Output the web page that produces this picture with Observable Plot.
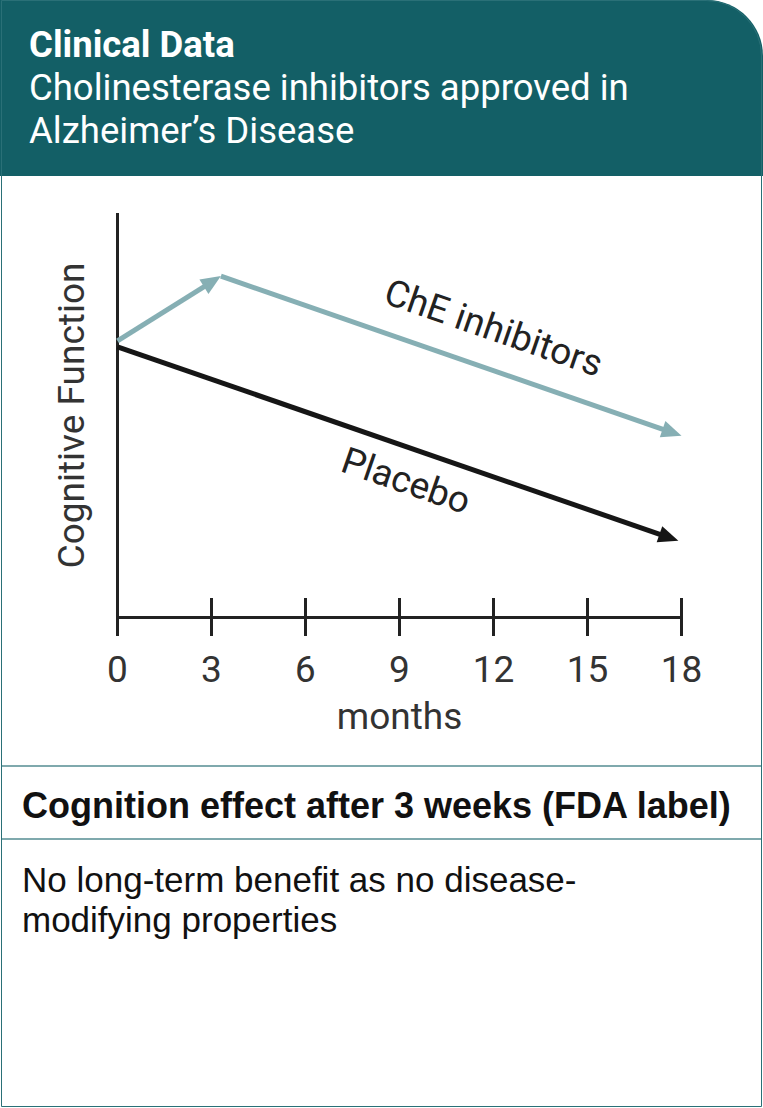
<!DOCTYPE html>
<html>
<head>
<meta charset="utf-8">
<script src="https://cdn.jsdelivr.net/npm/d3@7"></script>
<script src="https://cdn.jsdelivr.net/npm/@observablehq/plot@0.6"></script>
<style>
  html, body { margin: 0; padding: 0; background: #fff; }
  #page { position: relative; width: 763px; height: 1108px; overflow: hidden; }
  #header { position: absolute; left: 0; top: 0; width: 763px; height: 176px; background: #135f66; border-top-right-radius: 56px; }
  #frame { position: absolute; left: 1px; top: 0; width: 761px; height: 1107px; box-sizing: border-box; border: 1.5px solid #2a7077; border-top-right-radius: 56px; pointer-events: none; }
  #title { position: absolute; left: 29px; top: 23px; color: #fff; font-family: Roboto, sans-serif; font-size: 36.5px; line-height: 43px; white-space: nowrap; }
  #title b { font-weight: 700; }
  #chart { position: absolute; left: 0; top: 176px; }
  .rule { position: absolute; left: 2px; width: 759px; height: 1.5px; background: #7fa9ad; }
  #heading { position: absolute; left: 22px; top: 784px; font-family: "Liberation Sans", Arial, sans-serif; font-weight: 700; font-size: 36px; line-height: 44px; color: #111; white-space: nowrap; }
  #body { position: absolute; left: 22px; top: 860px; width: 720px; font-family: "Liberation Sans", Arial, sans-serif; font-size: 35px; line-height: 40px; color: #111; white-space: nowrap; }
</style>
</head>
<body>
<div id="page">
  <div id="header"></div>
  <div id="title"><b>Clinical Data</b><br>Cholinesterase inhibitors approved in<br>Alzheimer’s Disease</div>
  <div id="chart"></div>
  <div class="rule" style="top:765px"></div>
  <div id="heading">Cognition effect after 3 weeks (FDA label)</div>
  <div class="rule" style="top:838px"></div>
  <div id="body">No long-term benefit as no disease-<br>modifying properties</div>
  <div id="frame"></div>
</div>
<script>
// ---- data ----
const monthTicks = [0, 3, 6, 9, 12, 15, 18];
const cheMonths = [0, 3.3, 18];
const cheValues = [68.5, 84.5, 45];
const placeboMonths = [0, 17.9];
const placeboValues = [67, 19];
const seriesNames = ["ChE inhibitors", "Placebo"];
const labelMonths = [12, 9.2];
const labelValues = [71.5, 33.7];
const xLabel = "months";
const yLabel = "Cognitive Function";

// ---- layout / style ----
const W = 763, H = 590, mL = 117, mR = 82, mT = 37, mB = 149;
const cheColor = "#86afb4", placeboColor = "#161616", axisColor = "#222", textColor = "#333";
const fs = 37;
const xDomain = [0, 18], yDomain = [0, 100];
const px = v => mL + (v - xDomain[0]) / (xDomain[1] - xDomain[0]) * (W - mL - mR);
const py = v => (H - mB) - (v - yDomain[0]) / (yDomain[1] - yDomain[0]) * (H - mB - mT);

function segments(ms, vs, color) {
  const out = [];
  for (let i = 0; i < ms.length - 1; i++) {
    const s = {x1: ms[i], y1: vs[i], x2: ms[i + 1], y2: vs[i + 1], color};
    s.angle = Math.atan2(py(s.y2) - py(s.y1), px(s.x2) - px(s.x1)) * 180 / Math.PI;
    out.push(s);
  }
  return out;
}
const segs = [
  ...segments(cheMonths, cheValues, cheColor),
  ...segments(placeboMonths, placeboValues, placeboColor)
];
const labels = seriesNames.map((name, i) => ({
  name, x: labelMonths[i], y: labelValues[i],
  angle: segs.filter(s => s.color === (i === 0 ? cheColor : placeboColor)).slice(-1)[0].angle
}));

// arrowhead symbol: tip at origin, pointing up
const headSymbol = {
  draw(ctx) {
    ctx.moveTo(0, 0);
    ctx.lineTo(-8.5, 20);
    ctx.lineTo(8.5, 20);
    ctx.closePath();
  }
};

const plot = Plot.plot({
  width: W, height: H,
  marginLeft: mL, marginRight: mR, marginTop: mT, marginBottom: mB,
  x: {domain: xDomain, axis: null},
  y: {domain: yDomain, axis: null},
  style: {fontFamily: "Roboto, sans-serif", background: "transparent", overflow: "visible"},
  marks: [
    Plot.ruleX([0], {y1: yDomain[0], y2: yDomain[1], stroke: axisColor, strokeWidth: 3}),
    Plot.ruleY([0], {x1: xDomain[0], x2: xDomain[1], stroke: axisColor, strokeWidth: 3}),
    Plot.ruleX(monthTicks, {x: d => d, y1: 0, y2: 0, insetTop: -19, insetBottom: -19, stroke: axisColor, strokeWidth: 3}),
    Plot.axisX({ticks: monthTicks, tickSize: 0, tickPadding: 38, fontSize: fs, label: null, fill: textColor, tickFormat: d => String(d)}),
    Plot.text([xLabel], {x: 9, y: 0, dy: 100, text: d => d, fontSize: fs, fill: textColor}),
    Plot.text([yLabel], {x: 0, y: 50, dx: -45, rotate: -90, text: d => d, fontSize: fs, fill: textColor}),
    Plot.arrow(segs, {x1: "x1", y1: "y1", x2: "x2", y2: "y2", stroke: d => d.color, strokeWidth: 5, headLength: 0, insetEnd: 15, strokeLinecap: "butt", strokeLinejoin: "miter"}),
    Plot.dot(segs, {x: "x2", y: "y2", symbol: headSymbol, fill: d => d.color, stroke: "none", rotate: d => d.angle + 90}),
    Plot.text(labels, {x: "x", y: "y", text: "name", rotate: d => d.angle, fontSize: fs, fill: "#222"})
  ]
});
document.getElementById("chart").appendChild(plot);
</script>
</body>
</html>
